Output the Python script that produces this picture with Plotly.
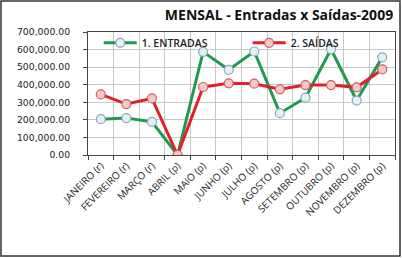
import plotly.graph_objects as go

months = ["JANEIRO (r)", "FEVEREIRO (r)", "MARÇO (r)", "ABRIL (p)", "MAIO (p)", "JUNHO (p)",
          "JULHO (p)", "AGOSTO (p)", "SETEMBRO (p)", "OUTUBRO (p)", "NOVEMBRO (p)", "DEZEMBRO (p)"]
entradas = [204000, 210000, 189000, 0, 587000, 485000, 589000, 238000, 326000, 602000, 310000, 556000]
saidas = [345000, 290000, 322000, 0, 387000, 408000, 406000, 374000, 398000, 398000, 385000, 487000]
yticks = [0, 100000, 200000, 300000, 400000, 500000, 600000, 700000]

fig = go.Figure()
fig.add_trace(go.Scatter(x=months, y=entradas, name="1. ENTRADAS", mode="lines+markers",
                         legend="legend",
                         line=dict(color="#1f9a50", width=3),
                         marker=dict(symbol="circle", size=9, color="#e4f1f4",
                                     line=dict(color="#8aa6b8", width=1.2))))
fig.add_trace(go.Scatter(x=months, y=saidas, name="2. SAÍDAS", mode="lines+markers",
                         legend="legend2",
                         line=dict(color="#e3202a", width=3),
                         marker=dict(symbol="circle", size=9, color="#f6c8c8",
                                     line=dict(color="#c86060", width=1.2))))

L, R, T, B = 88, 7, 32, 103
W, H = 402, 258
pw, ph = W - L - R, H - T - B

legfont = dict(family="Open Sans", size=10.5, color="#222", weight=600)
fig.update_layout(
    width=W, height=H,
    margin=dict(l=L, r=R, t=T, b=B),
    paper_bgcolor="white", plot_bgcolor="white",
    font=dict(family="DejaVu Sans", size=9, color="#222"),
    title=dict(text="<b>MENSAL - Entradas x Saídas-2009</b>", x=0.978, xanchor="right",
               y=1 - 15 / H, yanchor="middle",
               font=dict(family="Open Sans", size=14, color="#111")),
    showlegend=True,
    legend=dict(orientation="h", x=0.035, y=1.03, xanchor="left", yanchor="top",
                bgcolor="rgba(255,255,255,0)", font=legfont, itemwidth=33),
    legend2=dict(orientation="h", x=0.52, y=1.03, xanchor="left", yanchor="top",
                 bgcolor="rgba(255,255,255,0)", font=legfont, itemwidth=33),
    xaxis=dict(type="category", tickangle=-45, showgrid=True, gridcolor="#c8c8c8",
               tickson="boundaries", ticks="outside", ticklen=4, tickcolor="#444",
               showline=True, linecolor="#444", linewidth=1, mirror=True,
               tickfont=dict(family="Open Sans", size=10), range=[-0.5, 11.5]),
    yaxis=dict(range=[0, 700000], tickvals=yticks, tickformat=",.2f", showgrid=True,
               gridcolor="#c8c8c8", ticks="outside", ticklen=4, tickcolor="#444",
               showline=True, linecolor="#444", linewidth=1, mirror=True,
               ticklabelstandoff=11,
               tickfont=dict(family="DejaVu Sans", size=9.3), zeroline=False),
)

fig.add_shape(type="rect", xref="paper", yref="paper",
              x0=(1 - L) / pw, x1=(W - 2 - L) / pw,
              y0=(H - B - (H - 2)) / ph, y1=(H - B - 1) / ph,
              line=dict(color="#333", width=1.5), fillcolor="rgba(0,0,0,0)", layer="below")

fig.write_html("out.html")
